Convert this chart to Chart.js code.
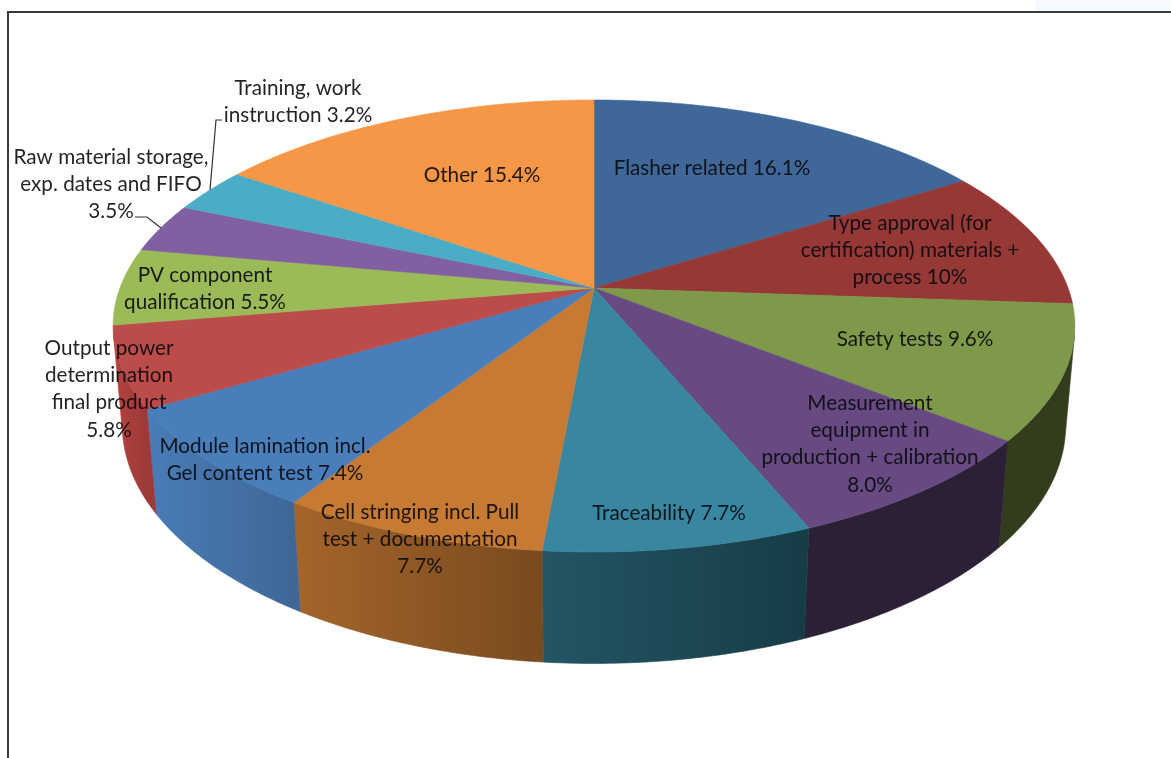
<!DOCTYPE html>
<html><head><meta charset="utf-8">
<style>
html,body{margin:0;padding:0;background:#fff;overflow:hidden}
#wrap{position:relative;width:1171px;height:758px}
#patch{position:absolute;left:1035px;top:0;width:136px;height:11px;background:#f4faff}
#top{position:absolute;left:7px;top:11px;width:1164px;height:2px;background:#3a3a3a}
#left{position:absolute;left:7px;top:11px;width:2px;height:747px;background:#3a3a3a}
canvas{position:absolute;left:0;top:0}
</style>
<script src="https://cdn.jsdelivr.net/npm/chart.js@4/dist/chart.umd.js"></script>
</head><body>
<div id="wrap"><div id="patch"></div><div id="top"></div><div id="left"></div>
<canvas id="c" width="1171" height="758"></canvas></div>
<script>
const categories = ["Flasher related","Type approval (for certification) materials + process","Safety tests","Measurement equipment in production + calibration","Traceability","Cell stringing incl. Pull test + documentation","Module lamination incl. Gel content test","Output power determination final product","PV component qualification","Raw material storage, exp. dates and FIFO","Training, work instruction","Other"];
const values = [16.1,10,9.6,8.0,7.7,7.7,7.4,5.8,5.5,3.5,3.2,15.4];
const topColors = ["#3f6797","#953836","#7e994a","#674a81","#38869f","#c67a33","#4a7ebb","#bc4c49","#9bbb59","#8060a0","#4bacc6","#f69647"];
const wallFrom = ["#2f4a6e","#6e2a28","#333c1c","#2b2035","#235564","#a5652a","#4a7cb8","#b5413f","#6f8a3f","#5f4778","#37808f","#b06c33"];
const wallTo   = ["#2f4a6e","#6e2a28","#333c1c","#2b2035","#163c46","#784a1f","#3e6796","#9c3a38","#6f8a3f","#5f4778","#37808f","#b06c33"];
const labelLines = [["Flasher related 16.1%"],["Type approval (for","certification) materials +","process 10%"],["Safety tests 9.6%"],["Measurement","equipment in","production + calibration","8.0%"],["Traceability 7.7%"],["Cell stringing incl. Pull","test + documentation","7.7%"],["Module lamination incl.","Gel content test 7.4%"],["Output power","determination","final product","5.8%"],["PV component","qualification 5.5%"],["Raw material storage,","exp. dates and FIFO","3.5%"],["Training, work","instruction 3.2%"],["Other 15.4%"]];
const labelCenterX = [712,910,915,870,669,420,265,109,205,111,298,482];
const labelFirstY  = [168,223,339,403,513,512,446,348,275,157,88,175];
const lineStep = 27.4;

// perspective model of the tilted disc
const XR=1.646, YR=0.7625, DEPTH=0.347, K=0.168, M=0.019, VIS=0.2;
function proj(el,a,h){
  const R=el.outerRadius,u=Math.cos(a),v=Math.sin(a),w=1-K*v+M*h;
  return [el.x+R*XR*u/w, el.y+(R*YR*v+R*DEPTH*h)/w];
}
function trace(ctx,el,a0,a1,h,first){
  const n=Math.max(2,Math.ceil(Math.abs(a1-a0)/0.01));
  for(let i=0;i<=n;i++){
    const p=proj(el,a0+(a1-a0)*i/n,h);
    if(i===0&&first)ctx.moveTo(p[0],p[1]);else ctx.lineTo(p[0],p[1]);
  }
}
Chart.ArcElement.prototype.draw=function(ctx){
  const i=this.$context.dataIndex,a0=this.startAngle,a1=this.endAngle;
  const lo=Math.asin(VIS),hi=Math.PI-lo,s=Math.max(a0,lo),e=Math.min(a1,hi);
  ctx.save();
  if(s<e){
    const ps=proj(this,s,0),pe=proj(this,e,0);
    const g=ctx.createLinearGradient(Math.min(ps[0],pe[0]),0,Math.max(ps[0],pe[0]),0);
    g.addColorStop(0,wallFrom[i]);g.addColorStop(1,wallTo[i]);
    ctx.beginPath();trace(ctx,this,s,e,0,true);trace(ctx,this,e,s,1,false);ctx.closePath();
    ctx.fillStyle=g;ctx.strokeStyle=g;ctx.lineWidth=.6;ctx.fill();ctx.stroke();
  }
  ctx.beginPath();ctx.moveTo(this.x,this.y);trace(ctx,this,a0,a1,0,false);ctx.closePath();
  ctx.fillStyle=this.options.backgroundColor;ctx.strokeStyle=this.options.backgroundColor;
  ctx.lineWidth=.6;ctx.fill();ctx.stroke();
  ctx.restore();
};
const labelsPlugin={id:'labels3d',afterDatasetsDraw(chart){
  const ctx=chart.ctx;ctx.save();
  ctx.strokeStyle='#333';ctx.lineWidth=1.2;
  ctx.beginPath();ctx.moveTo(222,120);ctx.lineTo(216,120);ctx.lineTo(210,190);ctx.stroke();
  ctx.beginPath();ctx.moveTo(135,217);ctx.lineTo(147,217);ctx.lineTo(161,228);ctx.stroke();
  ctx.font='20.7px Lato';ctx.textAlign='center';ctx.textBaseline='middle';ctx.fillStyle='rgba(10,10,15,.9)';
  labelLines.forEach((lines,i)=>lines.forEach((t,j)=>ctx.fillText(t,labelCenterX[i],labelFirstY[i]+j*lineStep)));
  ctx.restore();
}};
new Chart(document.getElementById('c'),{
  type:'pie',
  data:{labels:categories,datasets:[{data:values,backgroundColor:topColors,borderWidth:0}]},
  options:{responsive:false,animation:false,events:[],
    layout:{padding:{left:17,top:0,right:0,bottom:182}},
    plugins:{legend:{display:false},tooltip:{enabled:false},title:{display:false}}},
  plugins:[labelsPlugin]
});
</script>
</body></html>
